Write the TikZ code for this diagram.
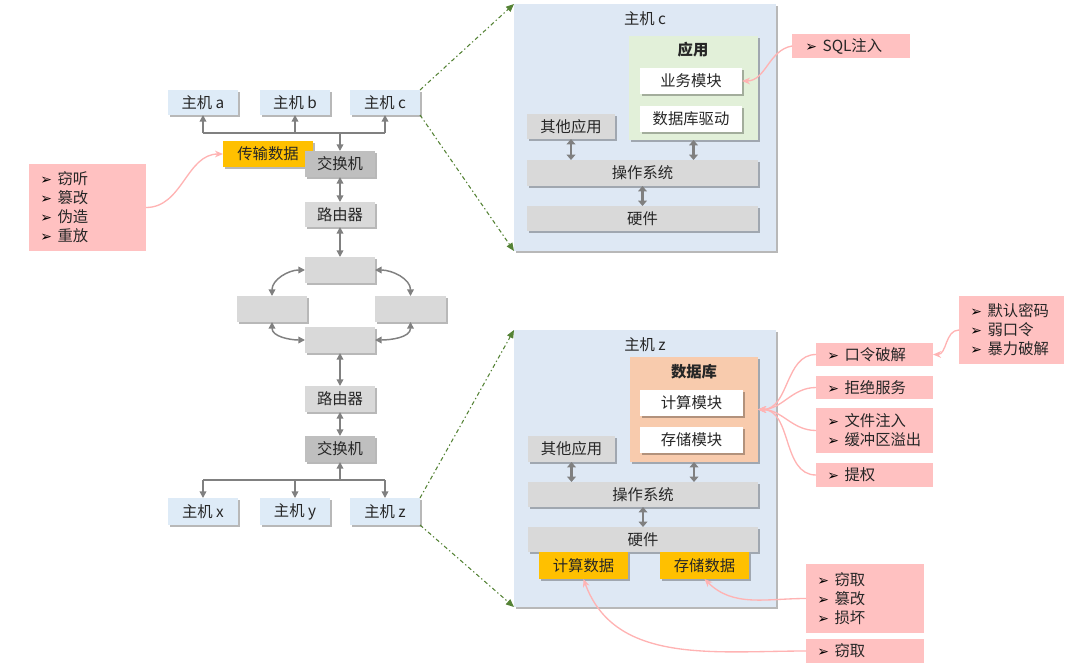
\documentclass[tikz,border=0pt]{standalone}
\usepackage{fontspec}
\setmainfont{Noto Sans CJK SC}
\newfontfamily\symfont{DejaVu Sans}
\usetikzlibrary{shadows,arrows.meta,calc}
\definecolor{hostblue}{HTML}{DEEBF7}
\definecolor{bgblue}{HTML}{DEE8F4}
\definecolor{lgray}{HTML}{D9D9D9}
\definecolor{dgray}{HTML}{BFBFBF}
\definecolor{gold}{HTML}{FFC000}
\definecolor{pinkbox}{HTML}{FFC1C1}
\definecolor{pinkline}{HTML}{FFB3B3}
\definecolor{appgreen}{HTML}{E2F0D9}
\definecolor{dbpeach}{HTML}{F8CBAD}
\definecolor{arrgray}{HTML}{808080}
\definecolor{dashgreen}{HTML}{548235}
\definecolor{txt}{HTML}{262626}
\newcommand\bul{\makebox[13pt][l]{\color{black}\symfont\fontsize{10.5}{10.5}\selectfont ➢}}
% name, style, x1, y1, x2, y2, text
\newcommand\mkbox[7]{%
  \pgfmathsetmacro\mkcx{(#3+#5)/2}%
  \pgfmathsetmacro\mkcy{(#4+#6)/2}%
  \pgfmathsetmacro\mkw{(#5-#3)*0.75}%
  \pgfmathsetmacro\mkh{(#6-#4)*0.75}%
  \node[#2,minimum width=\mkw pt,minimum height=\mkh pt] (#1) at (\mkcx,\mkcy) {#7};}
\begin{document}
\begin{tikzpicture}[x=0.75pt,y=-0.75pt,font=\fontsize{11.5}{13.8}\selectfont,text=txt,
  base/.style={inner sep=0pt,outer sep=0pt,draw=none,anchor=center},
  shd/.style={drop shadow={shadow xshift=1.5pt,shadow yshift=-1.5pt,fill=black,opacity=0.28}},
  host/.style={base,shd,fill=hostblue},
  gbox/.style={base,shd,fill=lgray},
  dbox/.style={base,shd,fill=dgray},
  obox/.style={base,shd,fill=gold},
  wbox/.style={base,shd,fill=white},
  pbox/.style={base,fill=pinkbox},
  big/.style={base,shd,fill=bgblue},
  gline/.style={draw=arrgray,line width=1.1pt},
  garr/.style={draw=arrgray,line width=1.1pt,-{Triangle[length=5pt,width=5pt]}},
  gdbl/.style={draw=arrgray,line width=1.1pt,{Triangle[length=5pt,width=5pt]}-{Triangle[length=5pt,width=5pt]}},
  layer/.style={draw=arrgray,line width=2.2pt,{Triangle[length=4pt,width=6.5pt]}-{Triangle[length=4pt,width=6.5pt]}},
  grn/.style={draw=dashgreen,line width=0.8pt,dash pattern=on 3pt off 2pt on 1pt off 2pt,-{Triangle[length=6pt,width=5pt]}},
  pk/.style={draw=pinkline,line width=1pt,-{Stealth[length=6pt,width=5pt]}},
  lst/.style={anchor=west,align=left,inner sep=0pt,font=\fontsize{11.5}{14.25}\selectfont}]
\useasboundingbox (0,0) rectangle (1073,667);

% ---------- left network ----------
\mkbox{ha}{host}{168}{90}{238}{115}{主机 a}
\mkbox{hb}{host}{260}{90}{330}{115}{主机 b}
\mkbox{hc}{host}{350}{90}{420}{115}{主机 c}
\mkbox{data1}{obox}{223}{141}{313}{167}{传输数据}
\mkbox{sw1}{dbox}{305}{151}{375}{177}{交换机}
\mkbox{rt1}{gbox}{305}{202}{375}{227}{路由器}
\mkbox{rtop}{gbox}{305}{257}{375}{283}{}
\mkbox{rleft}{gbox}{237}{296}{307}{322}{}
\mkbox{rright}{gbox}{375}{296}{446}{322}{}
\mkbox{rbot}{gbox}{305}{327}{375}{353}{}
\mkbox{rt2}{gbox}{305}{386}{375}{412}{路由器}
\mkbox{sw2}{dbox}{305}{436}{375}{462}{交换机}
\mkbox{hx}{host}{168}{498}{238}{525}{主机 x}
\mkbox{hy}{host}{260}{498}{330}{525}{主机 y}
\mkbox{hz}{host}{350}{498}{420}{525}{主机 z}

\mkbox{att1}{pbox}{29}{164}{146}{251}{}
\node[lst] (att1t) at ($(att1.west)+(11,0)$) {\bul 窃听\\\bul 篡改\\\bul 伪造\\\bul 重放};

\coordinate (busc) at (340,133);
\draw[gline] (ha.south |- busc) -- (hc.south |- busc);
\draw[garr] (ha.south |- busc) -- (ha.south);
\draw[garr] (hb.south |- busc) -- (hb.south);
\draw[garr] (hc.south |- busc) -- (hc.south);
\draw[garr] (busc) -- (sw1.north);
\draw[gdbl] (sw1.south) -- (rt1.north);
\draw[gdbl] (rt1.south) -- (rtop.north);
\draw[gdbl] (rtop.west) to[out=180,in=90] (rleft.north);
\draw[gdbl] (rtop.east) to[out=0,in=90] (rright.north);
\draw[gdbl] (rbot.west) to[out=180,in=-90] (rleft.south);
\draw[gdbl] (rbot.east) to[out=0,in=-90] (rright.south);
\draw[gdbl] (rbot.south) -- (rt2.north);
\draw[gdbl] (rt2.south) -- (sw2.north);
\coordinate (busz) at (340,480);
\draw[gline] (hx.north |- busz) -- (hz.north |- busz);
\draw[garr] (hx.north |- busz) -- (hx.north);
\draw[garr] (hy.north |- busz) -- (hy.north);
\draw[garr] (hz.north |- busz) -- (hz.north);
\draw[garr] (busz) -- (sw2.south);

% ---------- host c detail ----------
\mkbox{bigc}{big}{514}{4}{776}{251}{}
\node[inner sep=0pt] (tc) at (645,19) {主机 c};
\mkbox{appc}{base,shd,fill=appgreen}{629}{36}{758}{140}{}
\node[inner sep=0pt,font=\fontsize{11.5}{13.8}\selectfont\bfseries] (appt) at (693,50) {应用};
\mkbox{biz}{wbox}{640}{68}{742}{94}{业务模块}
\mkbox{dbd}{wbox}{640}{106}{742}{132}{数据库驱动}
\mkbox{othc}{gbox}{527}{114}{615}{139}{其他应用}
\mkbox{osc}{gbox}{527}{160}{758}{186}{操作系统}
\mkbox{hwc}{gbox}{527}{206}{758}{231}{硬件}
\draw[layer] (othc.south) -- (othc.south |- osc.north);
\draw[layer] (appc.south) -- (appc.south |- osc.north);
\draw[layer] (osc.south) -- (hwc.north);

\mkbox{sql}{pbox}{792}{34}{910}{58}{}
\node[lst] (sqlt) at ($(sql.west)+(13,0)$) {\bul SQL注入};
\draw[pk] (sql.west) to[out=190,in=0] (biz.east);

% ---------- host z detail ----------
\mkbox{bigz}{big}{514}{330}{776}{607}{}
\node[inner sep=0pt] (tz) at (645,345) {主机 z};
\mkbox{db}{base,shd,fill=dbpeach}{630}{357}{758}{462}{}
\node[inner sep=0pt,font=\fontsize{11.5}{13.8}\selectfont\bfseries] (dbt) at (694,372) {数据库};
\mkbox{calc}{wbox}{640}{390}{743}{416}{计算模块}
\mkbox{stor}{wbox}{640}{427}{743}{453}{存储模块}
\mkbox{othz}{gbox}{528}{436}{615}{462}{其他应用}
\mkbox{osz}{gbox}{528}{482}{758}{507}{操作系统}
\mkbox{hwz}{gbox}{528}{527}{758}{552}{硬件}
\mkbox{cdata}{obox}{539}{552}{628}{579}{计算数据}
\mkbox{sdata}{obox}{660}{552}{749}{579}{存储数据}
\draw[layer] (othz.south) -- (othz.south |- osz.north);
\draw[layer] (db.south) -- (db.south |- osz.north);
\draw[layer] (osz.south) -- (hwz.north);

% ---------- attacks on host z ----------
\mkbox{pw}{pbox}{816}{343}{933}{366}{}
\node[lst] at ($(pw.west)+(11,0)$) {\bul 口令破解};
\mkbox{dos}{pbox}{816}{376}{933}{399}{}
\node[lst] at ($(dos.west)+(11,0)$) {\bul 拒绝服务};
\mkbox{inj}{pbox}{816}{408}{933}{453}{}
\node[lst] at ($(inj.west)+(11,0)$) {\bul 文件注入\\\bul 缓冲区溢出};
\mkbox{priv}{pbox}{816}{463}{933}{487}{}
\node[lst] at ($(priv.west)+(11,0)$) {\bul 提权};
\mkbox{pwd}{pbox}{959}{296}{1064}{364}{}
\node[lst] at ($(pwd.west)+(11,0)$) {\bul 默认密码\\\bul 弱口令\\\bul 暴力破解};
\mkbox{st1}{pbox}{806}{564}{924}{633}{}
\node[lst] at ($(st1.west)+(11,0)$) {\bul 窃取\\\bul 篡改\\\bul 损坏};
\mkbox{st2}{pbox}{806}{639}{924}{663}{}
\node[lst] at ($(st2.west)+(11,0)$) {\bul 窃取};

\draw[pk] (pw.west) to[out=180,in=0] (db.east);
\draw[pk] (dos.west) to[out=180,in=0] (db.east);
\draw[pk] (inj.west) to[out=180,in=0] (db.east);
\draw[pk] (priv.west) to[out=180,in=0] (db.east);
\draw[pk] (pwd.west) to[out=180,in=0] (pw.east);
\draw[pk] (st1.west) to[out=180,in=-45] (sdata.south);
\draw[pk] (st2.west) to[out=180,in=-70] (cdata.south);

% ---------- left attack ----------
\draw[pk] (att1.east) to[out=0,in=180] (data1.west);

% ---------- zoom lines ----------
\draw[grn] (hc.north east) -- (bigc.north west);
\draw[grn] (hc.south east) -- (bigc.south west);
\draw[grn] (hz.north east) -- (bigz.north west);
\draw[grn] (hz.south east) -- (bigz.south west);
\end{tikzpicture}
\end{document}
